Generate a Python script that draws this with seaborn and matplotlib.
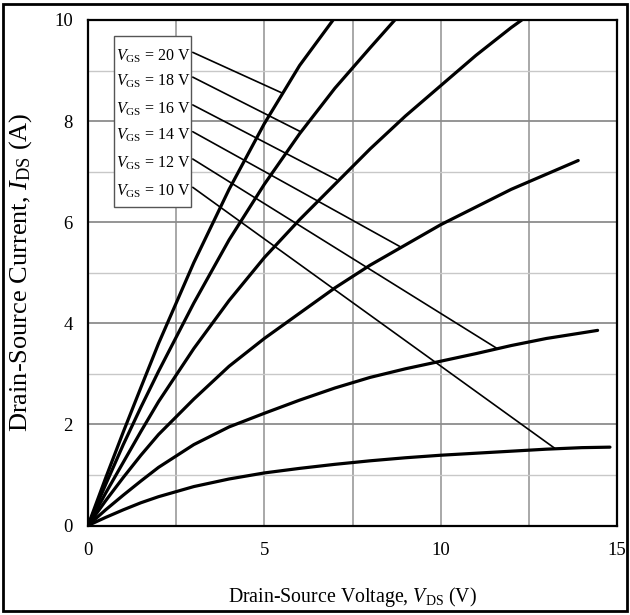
import numpy as np
import pandas as pd
import matplotlib
matplotlib.use("Agg")
import matplotlib.pyplot as plt
from matplotlib.patches import Rectangle
import seaborn as sns

# Output characteristics of the MOSFET: drain current vs drain-source voltage
vgs_levels = [20, 18, 16, 14, 12, 10]

vds_20 = [0, 0.5, 1, 1.5, 2, 3, 4, 5, 6, 6.95]
ids_20 = [0, 0.94, 1.85, 2.73, 3.6, 5.2, 6.65, 7.95, 9.1, 10.0]

vds_18 = [0, 0.5, 1, 1.5, 2, 3, 4, 5, 6, 7, 8, 8.7]
ids_18 = [0, 0.81, 1.6, 2.34, 3.05, 4.4, 5.65, 6.75, 7.75, 8.65, 9.45, 10.0]

vds_16 = [0, 0.5, 1, 1.5, 2, 3, 4, 5, 6, 7, 8, 9, 10, 11, 12, 12.3]
ids_16 = [0, 0.64, 1.25, 1.86, 2.45, 3.5, 4.45, 5.3, 6.05, 6.75, 7.45, 8.1, 8.7, 9.3, 9.85, 10.0]

vds_14 = [0, 0.5, 1, 1.5, 2, 3, 4, 5, 6, 7, 8, 9, 10, 11, 12, 13, 13.9]
ids_14 = [0, 0.49, 0.95, 1.39, 1.8, 2.5, 3.15, 3.7, 4.2, 4.7, 5.15, 5.55, 5.95, 6.3, 6.65, 6.95, 7.22]

vds_12 = [0, 0.5, 1, 1.5, 2, 3, 4, 5, 6, 7, 8, 9, 10, 11, 12, 13, 14, 14.45]
ids_12 = [0, 0.31, 0.6, 0.88, 1.15, 1.6, 1.95, 2.22, 2.48, 2.72, 2.93, 3.1, 3.25, 3.4, 3.56, 3.7, 3.81, 3.86]

vds_10 = [0, 0.5, 1, 1.5, 2, 3, 4, 5, 6, 7, 8, 9, 10, 11, 12, 13, 14, 14.8]
ids_10 = [0, 0.16, 0.31, 0.45, 0.57, 0.77, 0.92, 1.04, 1.13, 1.21, 1.28, 1.34, 1.39, 1.43, 1.47, 1.51, 1.54, 1.55]

# Points on each curve that the label leader lines point to (V, A)
leader_vds = [5.49, 6.0, 7.05, 8.84, 11.58, 13.23]
leader_ids = [8.56, 7.80, 6.84, 5.52, 3.51, 1.53]

x_ticks = [0, 5, 10, 15]
y_ticks = [0, 2, 4, 6, 8, 10]

curves = {
    20: (vds_20, ids_20), 18: (vds_18, ids_18), 16: (vds_16, ids_16),
    14: (vds_14, ids_14), 12: (vds_12, ids_12), 10: (vds_10, ids_10),
}
df = pd.concat(
    [pd.DataFrame({"VDS": v, "IDS": i, "VGS": g}) for g, (v, i) in curves.items()],
    ignore_index=True,
)

sns.set_theme(style="white")
plt.rcParams["font.family"] = ["Liberation Serif", "DejaVu Serif"]
plt.rcParams["mathtext.fontset"] = "custom"
plt.rcParams["mathtext.rm"] = "Liberation Serif"
plt.rcParams["mathtext.it"] = "Liberation Serif:italic"

fig = plt.figure(figsize=(6.3, 6.15), dpi=100)
ax = fig.add_axes([88 / 630, 1 - 525.5 / 615, (617 - 88) / 630, (525.5 - 20) / 615])

# grid: every 2.5 V, every 1 A (even amps slightly stronger)
for xv in np.arange(2.5, 15, 2.5):
    ax.axvline(xv, color="#9a9a9a", lw=1.2, zorder=0)
for yv in range(1, 10):
    if yv % 2 == 0:
        ax.axhline(yv, color="#8c8c8c", lw=1.3, zorder=0)
    else:
        ax.axhline(yv, color="#c8c8c8", lw=1.0, zorder=0)

sns.lineplot(
    data=df, x="VDS", y="IDS", hue="VGS", units="VGS", estimator=None, sort=False,
    palette={g: "black" for g in vgs_levels}, linewidth=2.3, legend=False, ax=ax, zorder=3,
)

ax.set_xlim(0, 15)
ax.set_ylim(0, 10)
ax.set_xticks(x_ticks)
ax.set_yticks(y_ticks)
ax.tick_params(axis="both", length=0, labelsize=13.5, colors="black")
ax.tick_params(axis="x", pad=12)
ax.tick_params(axis="y", pad=11)
for sp in ax.spines.values():
    sp.set_color("black")
    sp.set_linewidth(1.6)

ax.set_xlabel(r"Drain-Source Voltage, $V_{\rm DS}$ (V)", fontsize=14.3, color="black")
ax.set_ylabel(r"Drain-Source Current, $I_{\rm DS}$ (A)", fontsize=19, color="black")
ax.xaxis.set_label_coords(0.5, -0.118)
ax.yaxis.set_label_coords(-0.103, 0.5)

# label box with leader lines
box_x0, box_x1 = 0.74, 2.93
box_y0, box_y1 = 6.31, 9.68
ax.add_patch(Rectangle((box_x0, box_y0), box_x1 - box_x0, box_y1 - box_y0,
                       facecolor="white", edgecolor="#555555", lw=1.0, zorder=4))
label_y = [9.28, 8.79, 8.24, 7.71, 7.17, 6.61]
for g, ly, lx_end, ly_end in zip(vgs_levels, label_y, leader_vds, leader_ids):
    ax.text(box_x0 + 0.05, ly, rf"$V_{{\rm GS}}$ = {g} V", fontsize=11.5,
            ha="left", va="center", color="black", zorder=5)
    ax.plot([2.97, lx_end], [ly + 0.08, ly_end], color="black", lw=1.2, zorder=2)

fig.add_artist(Rectangle((3 / 630, 4 / 615), 624 / 630, 607 / 615,
                         transform=fig.transFigure, fill=False, ec="black", lw=2.0))

fig.savefig("out.png", dpi=100)
